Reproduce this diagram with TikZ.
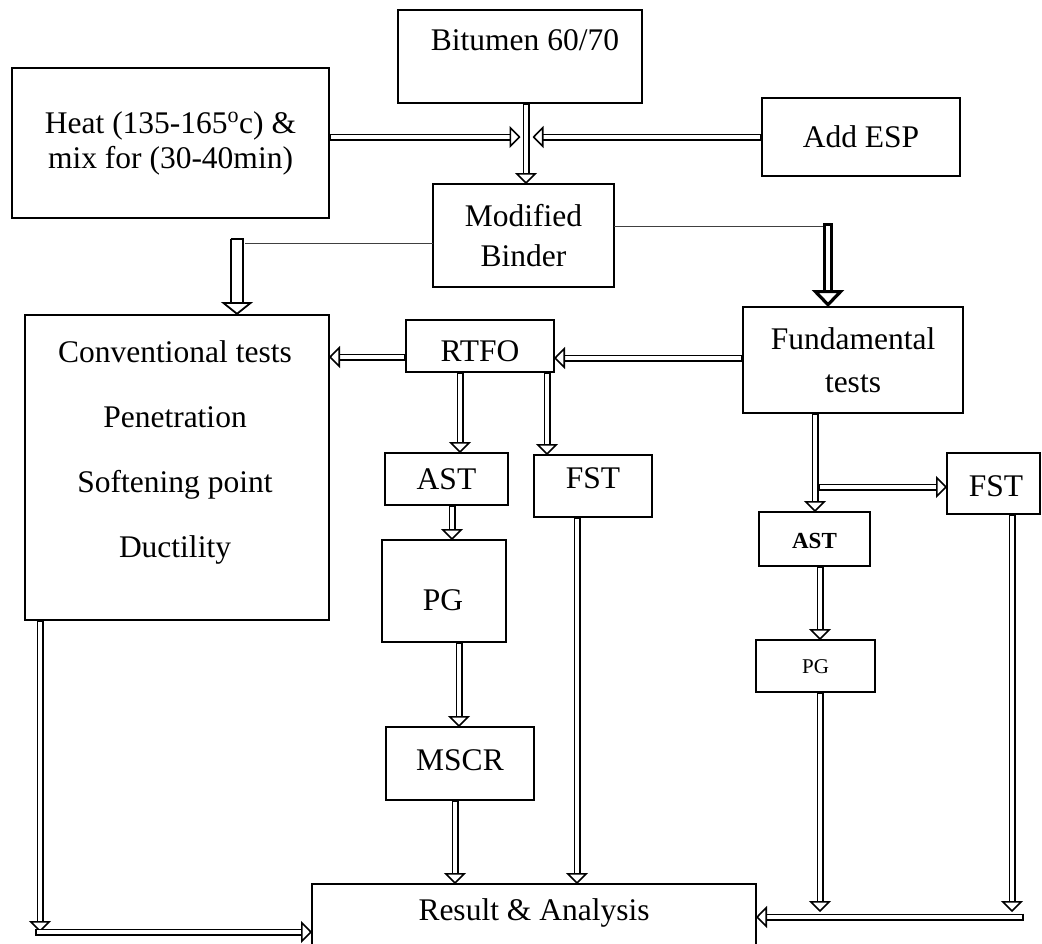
\documentclass[tikz,border=0pt]{standalone}
\usepackage{fontspec}
\setmainfont{Liberation Serif}
\usetikzlibrary{arrows.meta}
\newcommand\fsz{\fontsize{31.5}{35}\selectfont}
\tikzset{
  box/.style={draw, line width=1.8pt, inner sep=0pt, outer sep=0pt, align=center, font=\fsz},
  txt/.style={inner sep=0pt, align=center, font=\fsz},
  dar/.style={double, double distance=3.6pt, line width=1.7pt,
    {Bar[width=7pt, line width=1.7pt]}-{Triangle[open, length=11pt, width=22pt, line width=1.6pt, fill=white]}},
  widear/.style={double, double distance=10pt, line width=1.8pt,
    {Bar[width=13pt, line width=1.8pt]}-{Triangle[open, length=13pt, width=32pt, line width=1.8pt, fill=white]}},
  thickar/.style={double, double distance=3.5pt, line width=3.4pt,
    {Bar[width=10pt, line width=3.4pt]}-{Triangle[open, length=17pt, width=32pt, line width=3.2pt, fill=white]}},
  thin/.style={line width=1pt, draw=black!75},
}
\begin{document}
\begin{tikzpicture}[x=1pt,y=-1pt]
\clip (0,0) rectangle (1042,943);
\fill[white] (0,0) rectangle (1042,943);
% boxes
\node[box, minimum width=244pt, minimum height=93pt] (bit) at (520,56.5) {};
\node[txt] (bitT) at (525,40) {Bitumen 60/70};
\node[box, minimum width=317pt, minimum height=150pt] (heat) at (170.5,143) {Heat (135-165\raisebox{2pt}{\textsuperscript{o}}c) \&\\mix for (30-40min)};
\node[box, minimum width=198pt, minimum height=78pt] (esp) at (861,137) {Add ESP};
\node[box, minimum width=181pt, minimum height=103pt] (mb) at (523.5,235.5) {Modified\\[5pt]Binder};
\node[box, minimum width=304pt, minimum height=305pt] (conv) at (177,467.5) {};
\node[txt] (convT) at (175,452) {Conventional tests\\[30pt]Penetration\\[30pt]Softening point\\[30pt]Ductility};
\node[box, minimum width=148pt, minimum height=52pt] (rtfo) at (480,346) {};
\node[txt] (rtfoT) at (480,351) {RTFO};
\node[box, minimum width=220pt, minimum height=106pt] (fund) at (853,360) {Fundamental\\[8pt]tests};
\node[box, minimum width=123pt, minimum height=52pt] (ast1) at (446.5,479) {AST};
\node[box, minimum width=118pt, minimum height=62pt] (fst1) at (593,486) {};
\node[txt] (fst1T) at (593,478) {FST};
\node[box, minimum width=124pt, minimum height=102pt] (pg1) at (444,591) {};
\node[txt] (pg1T) at (443,600) {PG};
\node[box, minimum width=148pt, minimum height=73pt] (mscr) at (460,763.5) {};
\node[txt] (mscrT) at (460,760) {MSCR};
\node[box, minimum width=444pt, minimum height=76pt] (res) at (534,922) {};
\node[txt] (resT) at (534,913) {Result \& Analysis};
\node[box, minimum width=111pt, minimum height=54pt] (ast2) at (814.5,539) {};
\node[txt, font=\fontsize{23}{26}\selectfont\bfseries] (ast2T) at (814.5,541) {AST};
\node[box, minimum width=93pt, minimum height=61pt] (fst2) at (993.5,483.5) {};
\node[txt] (fst2T) at (996,486) {FST};
\node[box, minimum width=119pt, minimum height=52pt] (pg2) at (815.5,666) {};
\node[txt, font=\fontsize{21}{24}\selectfont] (pg2T) at (815.5,667) {PG};
% free-end coordinates
\coordinate (jl) at (520.5,137);
\coordinate (jr) at (532.5,137);
\coordinate (ml) at (245,243);
\coordinate (mlA) at (237,238);
\coordinate (mr) at (823,226);
\coordinate (mrA) at (828,223);
\coordinate (cl) at (40,932);
\coordinate (fb) at (818,487);
\coordinate (p2e) at (820,912);
\coordinate (f2e) at (1012,912);
\coordinate (rb) at (1024,917);
% junction arrows
\draw[dar] ([xshift=6pt]bit.south) -- ([xshift=6pt]bit.south |- mb.north);
\draw[dar] ([yshift=6pt]heat.east) -- (jl);
\draw[dar] (esp.west) -- (jr);
% modified binder branches
\draw[thin] ([yshift=-7.5pt]mb.west) -- (ml);
\draw[widear] (mlA) -- (mlA |- conv.north);
\draw[thin] ([yshift=9.5pt]mb.east) -- (mr);
\draw[thickar] (mrA) -- (mrA |- fund.north);
% RTFO row
\draw[dar] ([yshift=2pt]fund.west) -- ([yshift=2pt]fund.west -| rtfo.east);
\draw[dar] ([yshift=-11pt]rtfo.west) -- ([yshift=-11pt]rtfo.west -| conv.east);
\draw[dar] ([xshift=-20pt]rtfo.south) -- ([xshift=-20pt]rtfo.south |- ast1.north);
\draw[dar] ([xshift=67pt]rtfo.south) -- ([xshift=67pt]rtfo.south |- fst1.north);
\draw[dar] ([xshift=5.5pt]ast1.south) -- ([xshift=5.5pt]ast1.south |- pg1.north);
\draw[dar] ([xshift=15pt]pg1.south) -- ([xshift=15pt]pg1.south |- mscr.north);
\draw[dar] ([xshift=-5pt]mscr.south) -- ([xshift=-5pt]mscr.south |- res.north);
\draw[dar] ([xshift=-16pt]fst1.south) -- ([xshift=-16pt]fst1.south |- res.north);
% left return
\draw[dar] ([xshift=-137pt]conv.south) -- (cl);
\draw[dar] ([xshift=-5pt]cl) -- (cl -| res.west);
% fundamental branch
\draw[dar] ([xshift=-38pt]fund.south) -- ([xshift=-38pt]fund.south |- ast2.north);
\draw[dar] (fb) -- (fb -| fst2.west);
\draw[dar] ([xshift=5.5pt]ast2.south) -- ([xshift=5.5pt]ast2.south |- pg2.north);
\draw[dar] ([xshift=4.5pt]pg2.south) -- (p2e);
\draw[dar] ([xshift=18.5pt]fst2.south) -- (f2e);
\draw[dar] (rb) -- (rb -| res.east);
\end{tikzpicture}
\end{document}
